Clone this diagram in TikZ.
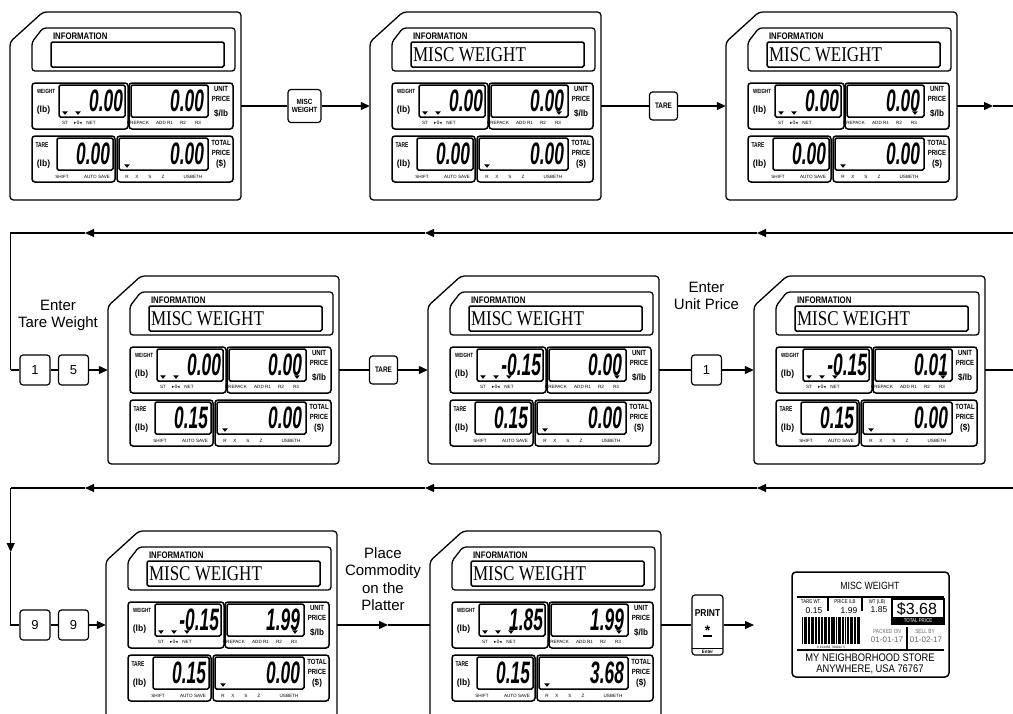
\documentclass[tikz,border=0pt]{standalone}
\usepackage{fontspec}
\setmainfont{Liberation Sans}
\newfontfamily\infoserif{Liberation Serif}
\newfontfamily\dejavu{DejaVu Sans}
\usetikzlibrary{arrows.meta}

\newcommand\lcdnum[1]{\scalebox{0.56}[1]{\fontsize{31}{31}\selectfont\bfseries\itshape #1}}
\newcommand\pl[2]{\scalebox{#1}[1]{\bfseries #2}}
\newcommand\tinyf{\fontsize{4.6}{5}\selectfont}
\newcommand\tri[2]{\fill (#1-2.8,#2-1.6) -- (#1+2.8,#2-1.6) -- (#1,#2+1.8) -- cycle;}

\tikzset{
 x=1pt, y=-1pt,
 conn/.style={line width=1.2pt},
 arr/.style={conn, -{Triangle[length=9pt,width=8pt]}},
 frame/.style={line width=1.3pt, rounded corners=3.5pt},
 panel/.style={line width=1.5pt, rounded corners=3pt},
 lcd/.style={line width=1.5pt, rounded corners=1.5pt},
 dispbox/.style={minimum width=231pt, minimum height=188pt, inner sep=0pt},
 txt/.style={inner sep=0pt, outer sep=0pt},
 keybox/.style={draw, line width=1.2pt, rounded corners=3pt, inner sep=0pt},
 numkey/.style={keybox, minimum width=30pt, minimum height=30pt, font=\fontsize{13}{13}\selectfont},
 flowtext/.style={txt, align=center, font=\fontsize{15}{17.5}\selectfont},
}

% #1 name, #2 top-left, #3 info text, #4 weight, #5 weight triangles, #6 unit price, #7 unit triangle, #8 tare, #9 total
\newcommand\disp[9]{%
\begin{scope}[shift={(#2)}]
\node[dispbox] (#1) at (115.5,94) {};
\draw[frame] (0,30) -- (33,0) -- (231,0) -- (231,188) -- (0,188) -- cycle;
% information
\draw[panel, line width=1.3pt] (22,30) -- (33,16) -- (225,16) -- (225,59) -- (22,59) -- cycle;
\draw[lcd] (41,30) rectangle (214,55);
\node[txt, anchor=base west] (#1-il) at (43,27) {\pl{0.82}{\fontsize{9.5}{9.5}\selectfont INFORMATION}};
\node[txt, anchor=west] (#1-it) at (43,43) {\scalebox{0.81}[1]{\infoserif\fontsize{21}{21}\selectfont #3}};
% weight
\draw[panel] (22,71) rectangle (118,117);
\draw[lcd] (49,73) rectangle (115,105);
\node[txt] (#1-wl) at (36,79) {\pl{0.75}{\fontsize{6}{6}\selectfont WEIGHT}};
\node[txt] (#1-wu) at (33.5,98) {\pl{0.95}{\fontsize{9}{9}\selectfont (lb)}};
\node[txt, anchor=east] (#1-wd) at (113,89) {\lcdnum{#4}};
\foreach \tx [count=\ti] in {55,68,81} {\ifnum\ti>#5\relax\else\tri{\tx}{101}\fi}
\node[txt, font=\tinyf] (#1-st) at (55,111) {ST};
\node[txt, font=\tinyf] (#1-zr) at (68,111) {\dejavu ▸0◂};
\node[txt, font=\tinyf] (#1-net) at (81,111) {NET};
% unit price
\draw[panel] (119,71) rectangle (223,117);
\draw[lcd] (121,73) rectangle (198,105);
\node[txt, anchor=east] (#1-ud) at (194,89) {\lcdnum{#6}};
\ifnum#7=1 \tri{189}{101}\fi
\node[txt, font=\tinyf] (#1-pp) at (128,111) {PREPACK};
\node[txt, font=\tinyf] (#1-ad) at (151,111) {ADD};
\node[txt, font=\tinyf] (#1-r1) at (160,111) {R1};
\node[txt, font=\tinyf] (#1-r2) at (173,111) {R2};
\node[txt, font=\tinyf] (#1-r3) at (188,111) {R3};
\node[txt] (#1-ul1) at (211,77) {\pl{0.8}{\fontsize{7.5}{7.5}\selectfont UNIT}};
\node[txt] (#1-ul2) at (211,87) {\pl{0.8}{\fontsize{7.5}{7.5}\selectfont PRICE}};
\node[txt] (#1-ul3) at (211,101) {\pl{0.9}{\fontsize{9}{9}\selectfont \$/lb}};
% tare
\draw[panel] (22,124) rectangle (105,170);
\draw[lcd] (47,126) rectangle (103,158);
\node[txt] (#1-tl) at (32,133) {\pl{0.7}{\fontsize{7}{7}\selectfont TARE}};
\node[txt] (#1-tu) at (33.5,152) {\pl{0.95}{\fontsize{9}{9}\selectfont (lb)}};
\node[txt, anchor=east] (#1-td) at (100,142) {\lcdnum{#8}};
\node[txt, font=\tinyf] (#1-sh) at (52,165) {SHIFT};
\node[txt, font=\tinyf] (#1-as) at (87,165) {AUTO SAVE};
% total
\draw[panel] (107,124) rectangle (223,170);
\draw[lcd] (109,126) rectangle (198,158);
\node[txt, anchor=east] (#1-pd) at (194,142) {\lcdnum{#9}};
\tri{117}{154}
\node[txt, font=\tinyf] (#1-xr) at (117,165) {R};
\node[txt, font=\tinyf] (#1-xx) at (127,165) {X};
\node[txt, font=\tinyf] (#1-xs) at (140,165) {S};
\node[txt, font=\tinyf] (#1-xz) at (153,165) {Z};
\node[txt, font=\tinyf] (#1-xu) at (183,165) {USBETH};
\node[txt] (#1-pl1) at (211,131) {\pl{0.8}{\fontsize{7.5}{7.5}\selectfont TOTAL}};
\node[txt] (#1-pl2) at (211,141) {\pl{0.8}{\fontsize{7.5}{7.5}\selectfont PRICE}};
\node[txt] (#1-pl3) at (211,152) {\pl{0.9}{\fontsize{9}{9}\selectfont (\$)}};
\end{scope}}

\begin{document}
\begin{tikzpicture}
\useasboundingbox (0,0) rectangle (1013,713);
\clip (0,0) rectangle (1013,713);

% ---------- displays ----------
\disp{d1}{10,12}{}{0.00}{2}{0.00}{0}{0.00}{0.00}
\disp{d2}{370,12}{MISC WEIGHT}{0.00}{2}{0.00}{1}{0.00}{0.00}
\disp{d3}{726,12}{MISC WEIGHT}{0.00}{2}{0.00}{1}{0.00}{0.00}
\disp{d4}{108,276}{MISC WEIGHT}{0.00}{2}{0.00}{1}{0.15}{0.00}
\disp{d5}{428,276}{MISC WEIGHT}{-0.15}{3}{0.00}{1}{0.15}{0.00}
\disp{d6}{754,276}{MISC WEIGHT}{-0.15}{3}{0.01}{1}{0.15}{0.00}
\disp{d7}{106,531}{MISC WEIGHT}{-0.15}{3}{1.99}{1}{0.15}{0.00}
\disp{d8}{430,531}{MISC WEIGHT}{1.85}{3}{1.99}{1}{0.15}{3.68}

% ---------- row 1 ----------
\node[keybox, minimum width=33pt, minimum height=33pt] (kmisc) at (304.5,106)
  {\pl{0.85}{\fontsize{7.5}{8}\selectfont\shortstack{MISC\\WEIGHT}}};
\node[keybox, minimum width=28pt, minimum height=28pt] (ktare1) at (663.5,106)
  {\pl{0.8}{\fontsize{8}{8}\selectfont TARE}};
\coordinate (r1a) at (993,106);
\coordinate (r1b) at (1013,106);
\draw[conn] (d1) -- (kmisc);
\draw[arr] (kmisc) -- (d2);
\draw[conn] (d2) -- (ktare1);
\draw[arr] (ktare1) -- (d3);
\draw[arr] (d3) -- (r1a);
\draw[conn] (r1a) -- (r1b);

% ---------- return to row 2 ----------
\coordinate (a0) at (1013,233);
\coordinate (a1) at (757,233);
\coordinate (a2) at (425,233);
\coordinate (a3) at (85,233);
\coordinate (a4) at (10.7,233);
\coordinate (a5) at (10.7,370);
\draw[arr] (a0) -- (a1);
\draw[arr] (a1) -- (a2);
\draw[arr] (a2) -- (a3);
\draw[conn] (a3) -- (a4) -- (a5);

% ---------- row 2 ----------
\node[numkey] (k1) at (35,370) {1};
\node[numkey] (k5) at (73.5,370) {5};
\draw[conn] (a5) -- (k1);
\draw[conn] (k1) -- (k5);
\draw[arr] (k5) -- (d4);
\node[flowtext] (tTare) at (58,315.5) {Enter\\Tare Weight};
\node[keybox, minimum width=28pt, minimum height=28pt] (ktare2) at (383.5,370)
  {\pl{0.8}{\fontsize{8}{8}\selectfont TARE}};
\draw[conn] (d4) -- (ktare2);
\draw[arr] (ktare2) -- (d5);
\node[numkey] (kone) at (706.5,370) {1};
\node[flowtext] (tUnit) at (706.5,296) {Enter\\Unit Price};
\draw[conn] (d5) -- (kone);
\draw[arr] (kone) -- (d6);
\coordinate (r2b) at (1013,370);
\draw[conn] (d6) -- (r2b);

% ---------- return to row 3 ----------
\coordinate (b0) at (1013,488);
\coordinate (b1) at (757,488);
\coordinate (b2) at (425,488);
\coordinate (b3) at (85,488);
\coordinate (b4) at (10.7,488);
\coordinate (b5) at (10.7,552);
\coordinate (b6) at (10.7,625);
\draw[arr] (b0) -- (b1);
\draw[arr] (b1) -- (b2);
\draw[arr] (b2) -- (b3);
\draw[conn] (b3) -- (b4);
\draw[arr] (b4) -- (b5);

% ---------- row 3 ----------
\node[numkey] (k9a) at (35,625) {9};
\node[numkey] (k9b) at (73.5,625) {9};
\draw[conn] (b5) -- (b6) -- (k9a);
\draw[conn] (k9a) -- (k9b);
\draw[arr] (k9b) -- (d7);
\coordinate (pm) at (388,625);
\draw[arr] (d7) -- (pm);
\draw[conn] (pm) -- (d8);
\node[flowtext] (tPlace) at (383,579) {Place\\Commodity\\on the\\Platter};

\node[keybox, minimum width=31pt, minimum height=60pt] (kprint) at (707.5,625) {};
\node[txt] (kp1) at (707.5,613) {\pl{0.85}{\fontsize{10}{10}\selectfont PRINT}};
\node[txt] (kp2) at (707.5,631) {\bfseries\fontsize{14}{14}\selectfont *};
\draw[line width=1.2pt] (703,636) -- (712,636);
\draw[line width=1pt] (692,648) -- (723,648);
\node[txt] (kp3) at (707.5,651.5) {\pl{0.9}{\fontsize{4.8}{5}\selectfont Enter}};
\coordinate (pe) at (754,625);
\draw[conn] (d8) -- (kprint);
\draw[arr] (kprint) -- (pe);

% ---------- printed label ----------
\node[draw, line width=1.5pt, rounded corners=4pt, minimum width=157pt, minimum height=105pt, inner sep=0pt] (lbl) at (870.5,624.5) {};
\node[txt] (l1) at (870,586) {\scalebox{0.83}[1]{\fontsize{10.5}{10.5}\selectfont MISC WEIGHT}};
\draw[line width=1.8pt] (797,597) -- (944,597);
\draw[line width=1.8pt] (828,597) -- (828,611);
\draw[line width=1.8pt] (862,597) -- (862,611);
\node[txt] (l2) at (811,602) {\scalebox{0.8}[1]{\fontsize{5.5}{5.5}\selectfont TARE WT.}};
\node[txt] (l3) at (814,611) {\fontsize{8.5}{8.5}\selectfont 0.15};
\node[txt] (l4) at (845,602) {\scalebox{0.8}[1]{\fontsize{5.5}{5.5}\selectfont PRICE /LB}};
\node[txt] (l5) at (849,611) {\fontsize{8.5}{8.5}\selectfont 1.99};
\node[txt] (l6) at (877,602) {\scalebox{0.8}[1]{\fontsize{5.5}{5.5}\selectfont WT (LB)}};
\node[txt] (l7) at (879,610) {\fontsize{8.5}{8.5}\selectfont 1.85};
\draw[line width=1.2pt] (892,599) rectangle (944,624);
\fill (892,617) rectangle (944,624);
\node[txt] (l8) at (917,609) {\fontsize{16}{16}\selectfont \$3.68};
\node[txt, text=white] (l9) at (918,620.7) {\scalebox{0.8}[1]{\fontsize{5.5}{5.5}\selectfont TOTAL PRICE}};
\foreach \bx/\bw in {0/1.1,2/0.5,3.2/1.5,5.5/0.5,7/1,8.8/0.5,10/2,13/0.5,14.2/1,16/1.5,18.5/0.5,19.7/1,21.5/0.5,23/1.8,25.6/0.5,26.8/1,28.5/0.6,30/1.5,32.3/0.5,33.5/1,35.5/2,38.3/0.5,39.5/1,41.3/0.5,42.6/1.6,45/0.5,46.3/1,48/0.6,49.4/1.8,52/0.5,53.2/1,55/0.5,56.2/1.4}
  {\fill (802+\bx,617) rectangle (802+\bx+\bw,644);}
\node[txt] (l10) at (831,647) {\fontsize{3.2}{3.2}\selectfont 0\,\,123456\,\,789012\,\,5};
\node[txt, text=black!60] (l11) at (887,631) {\scalebox{0.8}[1]{\fontsize{6}{6}\selectfont PACKED ON}};
\node[txt, text=black!60] (l12) at (887,640) {\fontsize{8}{8}\selectfont 01-01-17};
\draw[line width=1.5pt] (907,627) -- (907,650);
\node[txt, text=black!60] (l13) at (925,631) {\scalebox{0.8}[1]{\fontsize{6}{6}\selectfont SELL BY}};
\node[txt, text=black!60] (l14) at (926,640) {\fontsize{8}{8}\selectfont 01-02-17};
\draw[line width=1.8pt] (797,650) -- (944,650);
\node[txt] (l15) at (870,657.5) {\scalebox{0.85}[1]{\fontsize{11}{11}\selectfont MY NEIGHBORHOOD STORE}};
\node[txt] (l16) at (870,669.5) {\scalebox{0.85}[1]{\fontsize{11}{11}\selectfont ANYWHERE, USA 76767}};
\end{tikzpicture}
\end{document}
